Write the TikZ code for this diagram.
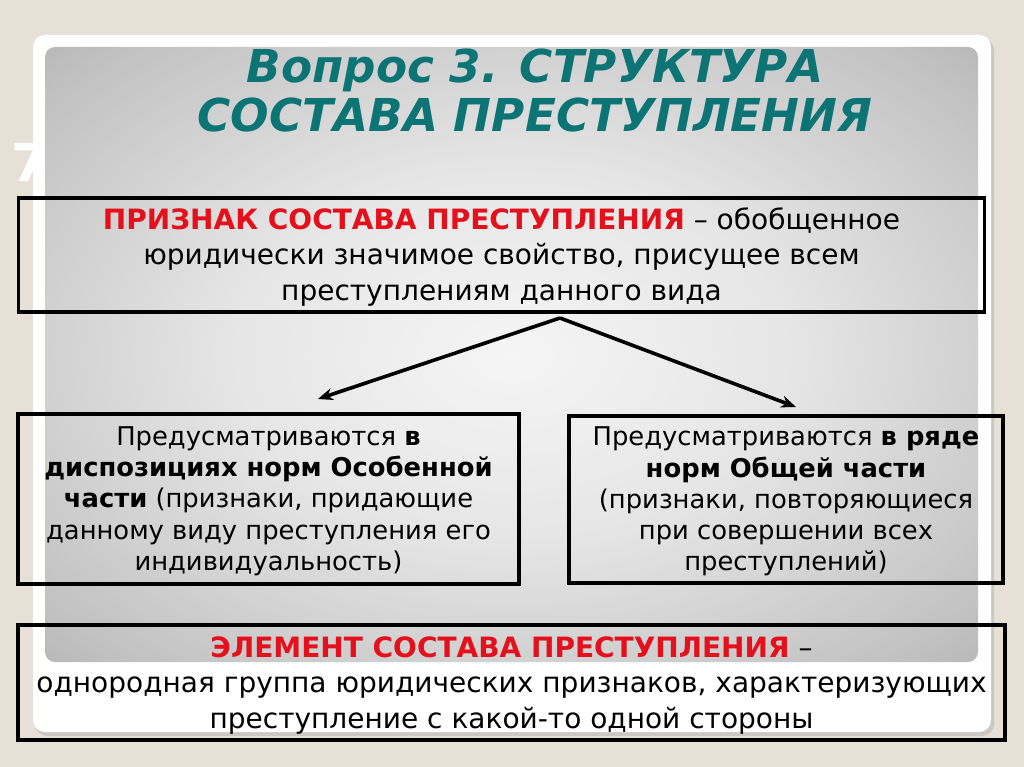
\documentclass[tikz,border=0pt]{standalone}
\usepackage{fontspec}
\setmainfont{DejaVu Sans}
\usetikzlibrary{arrows.meta}
\definecolor{beige}{HTML}{E6E0D6}
\definecolor{tealt}{HTML}{0C7475}
\definecolor{redtxt}{HTML}{E4101B}
\pgfdeclareradialshading{panelshade}{\pgfpoint{0bp}{0bp}}{color(0bp)=(white!96!black); color(15bp)=(white!90!black); color(32bp)=(white!76!black); color(50bp)=(white!58!black)}
\begin{document}
\begin{tikzpicture}[x=1pt,y=-1pt,
  box/.style={draw=black, line width=3.2pt, align=center, inner sep=0pt, text=black},
  conn/.style={line width=3.6pt, -{Stealth[length=15pt,width=12pt]}},
  txtA/.style={font=\fontsize{28}{35.5}\selectfont},
  txtB/.style={font=\fontsize{25.8}{31.3}\selectfont},
  ttl/.style={font=\bfseries\itshape\fontsize{45.3}{49}\selectfont, align=center}]
\useasboundingbox (0,0) rectangle (1024,767);
\fill[beige] (0,0) rectangle (1024,767);
\node[text=white, font=\bfseries\fontsize{52}{52}\selectfont] (seven) at (30,163) {7};
\fill[black!30, opacity=0.5, rounded corners=12pt] (35,38) rectangle (994,736);
\fill[white, rounded corners=12pt] (33,35) rectangle (991,732);
\shade[shading=panelshade, rounded corners=10pt] (45,47) rectangle (978,662);
% title
\node[ttl, text=tealt] (title) at (535,91) {Вопрос 3. СТРУКТУРА\\СОСТАВА ПРЕСТУПЛЕНИЯ};
% boxes
\node[box, txtA, minimum width=966pt, minimum height=114pt] (top) at (501.5,255)
  {\rule{0pt}{25pt}\textcolor{redtxt}{\bfseries ПРИЗНАК СОСТАВА ПРЕСТУПЛЕНИЯ} – обобщенное\\юридически значимое свойство, присущее всем\\преступлениям данного вида};
\node[box, txtB, minimum width=501pt, minimum height=170pt] (left) at (268.5,499)
  {\rule{0pt}{23pt}Предусматриваются \textbf{в}\\\textbf{диспозициях норм Особенной}\\\textbf{части} (признаки, придающие\\данному виду преступления его\\индивидуальность)};
\node[box, txtB, minimum width=434pt, minimum height=167pt] (right) at (786,499.5)
  {\rule{0pt}{23pt}Предусматриваются \textbf{в ряде}\\\textbf{норм Общей части}\\(признаки, повторяющиеся\\при совершении всех\\преступлений)};
\node[box, txtA, minimum width=987pt, minimum height=115pt] (bottom) at (511.5,682.5)
  {\rule{0pt}{26.5pt}\textcolor{redtxt}{\bfseries ЭЛЕМЕНТ СОСТАВА ПРЕСТУПЛЕНИЯ} –\\однородная группа юридических признаков, характеризующих\\преступление с какой-то одной стороны};
% connectors
\coordinate (apex) at (560,318);
\coordinate (lend) at (318,399);
\coordinate (rend) at (796,407);
\draw[conn] (apex) -- (lend);
\draw[conn] (apex) -- (rend);
\end{tikzpicture}
\end{document}
